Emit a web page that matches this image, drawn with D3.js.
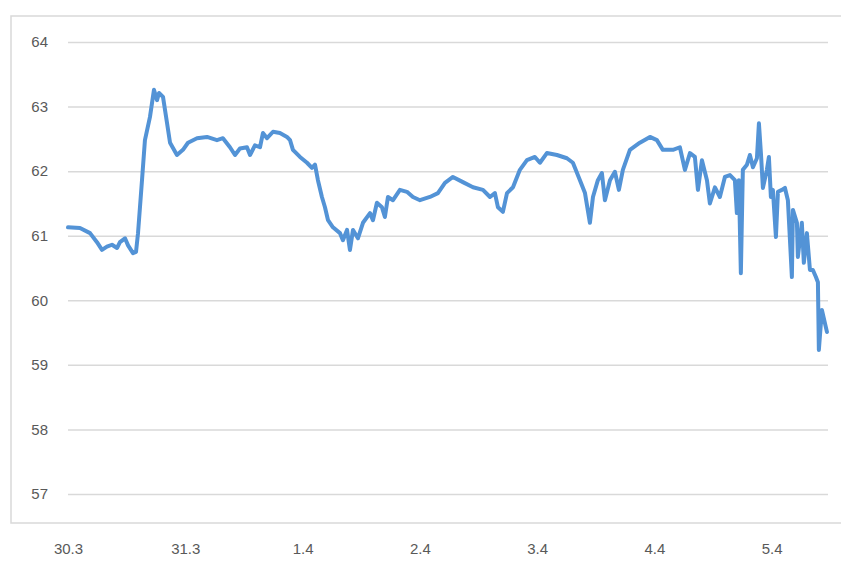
<!DOCTYPE html>
<html>
<head>
<meta charset="utf-8">
<script src="https://cdn.jsdelivr.net/npm/d3@7/dist/d3.min.js"></script>
<style>
  body { margin: 0; background: #fff; }
  svg { display: block; }
  .tick text { font-family: "Liberation Sans", "Noto Sans", sans-serif; fill: #595959; }
</style>
</head>
<body>
<div id="chart"></div>
<script>
// x 轴刻度标签（每天一个）
const dayLabels = ['30.3', '31.3', '1.4', '2.4', '3.4', '4.4', '5.4'];
const dayTicks = [0, 1, 2, 3, 4, 5, 6];
const yTicks = [57, 58, 59, 60, 61, 62, 63, 64];

// 时间（从 30.3 起的天数）
const days = [
  0, 0.102, 0.188, 0.247, 0.290, 0.332, 0.375, 0.418, 0.443, 0.486, 0.512, 0.554, 0.580,
  0.597, 0.631, 0.656, 0.699, 0.733, 0.759, 0.776, 0.810, 0.844, 0.870, 0.929, 0.980,
  1.023, 1.100, 1.185, 1.270, 1.321, 1.381, 1.424, 1.466, 1.526, 1.552, 1.594, 1.637,
  1.662, 1.697, 1.748, 1.807, 1.867, 1.893, 1.918, 1.978, 2.038, 2.080, 2.106, 2.131,
  2.165, 2.191, 2.217, 2.259, 2.319, 2.344, 2.379, 2.404, 2.430, 2.472, 2.515, 2.575,
  2.600, 2.634, 2.677, 2.702, 2.728, 2.771, 2.830, 2.890, 2.941, 3.001, 3.086, 3.154,
  3.214, 3.282, 3.367, 3.453, 3.538, 3.598, 3.640, 3.666, 3.708, 3.743, 3.794, 3.853,
  3.913, 3.981, 4.024, 4.083, 4.169, 4.254, 4.305, 4.365, 4.408, 4.450, 4.476, 4.518,
  4.552, 4.578, 4.621, 4.663, 4.697, 4.731, 4.791, 4.876, 4.962, 5.021, 5.072, 5.158,
  5.217, 5.260, 5.303, 5.345, 5.371, 5.405, 5.448, 5.473, 5.516, 5.558, 5.601, 5.644,
  5.686, 5.703, 5.720, 5.737, 5.754, 5.789, 5.814, 5.840, 5.874, 5.891, 5.908, 5.925,
  5.959, 5.976, 5.993, 6.010, 6.036, 6.053, 6.087, 6.113, 6.138, 6.172, 6.181, 6.215,
  6.223, 6.257, 6.274, 6.300, 6.326, 6.351, 6.377, 6.394, 6.402, 6.428, 6.471
];

// 对应的测量值
const values = [
  61.13, 61.12, 61.04, 60.90, 60.78, 60.83, 60.86, 60.81, 60.90, 60.96, 60.85, 60.73, 60.75,
  61.04, 61.86, 62.48, 62.84, 63.26, 63.10, 63.21, 63.15, 62.75, 62.44, 62.25, 62.33,
  62.44, 62.51, 62.53, 62.48, 62.51, 62.37, 62.25, 62.35, 62.37, 62.25, 62.40, 62.37,
  62.59, 62.51, 62.61, 62.59, 62.53, 62.48, 62.33, 62.22, 62.13, 62.05, 62.10, 61.86,
  61.60, 61.44, 61.24, 61.13, 61.04, 60.93, 61.09, 60.78, 61.09, 60.96, 61.20, 61.35,
  61.24, 61.51, 61.44, 61.29, 61.60, 61.55, 61.71, 61.68, 61.60, 61.55, 61.60, 61.66,
  61.82, 61.91, 61.83, 61.75, 61.71, 61.60, 61.66, 61.44, 61.37, 61.66, 61.75, 62.02,
  62.17, 62.22, 62.13, 62.28, 62.25, 62.20, 62.13, 61.86, 61.66, 61.20, 61.60, 61.86,
  61.97, 61.55, 61.86, 61.99, 61.71, 62.02, 62.33, 62.44, 62.53, 62.48, 62.33, 62.33,
  62.37, 62.02, 62.28, 62.22, 61.71, 62.17, 61.86, 61.50, 61.75, 61.60, 61.91, 61.94,
  61.86, 61.35, 61.86, 60.42, 62.02, 62.10, 62.25, 62.06, 62.20, 62.74, 62.28, 61.74,
  62.02, 62.22, 61.60, 61.71, 60.98, 61.68, 61.71, 61.74, 61.55, 60.36, 61.40, 61.20,
  60.67, 61.20, 60.58, 61.04, 60.47, 60.47, 60.36, 60.28, 59.23, 59.85, 59.51
];

document.addEventListener('DOMContentLoaded', () => {
  const series = days.map((d, i) => ({ day: d, value: values[i] }));
  drawLine(series);
});

function drawLine(data) {
  const W = 841, H = 561;

  const svg = d3.select('#chart')
    .append('svg')
    .attr('width', W)
    .attr('height', H);

  // 图表区外框（浅灰）
  svg.append('path')
    .attr('d', 'M841,16H11V523H841')
    .attr('fill', 'none')
    .attr('stroke', '#d9d9d9')
    .attr('stroke-width', 1.5);

  // 比例尺
  const x = d3.scaleLinear()
    .domain([0, 6.48])
    .range([68, 828]);

  const y = d3.scaleLinear()
    .domain([57, 64])
    .range([494, 42]);

  // 水平网格线 + y 轴标签
  const yAxis = svg.append('g')
    .attr('transform', 'translate(68,0)')
    .call(d3.axisLeft(y)
      .tickValues(yTicks)
      .tickFormat(d3.format('d'))
      .tickSize(-(828 - 68))
      .tickPadding(20));
  yAxis.select('.domain').remove();
  yAxis.selectAll('.tick line').attr('stroke', '#d9d9d9').attr('stroke-width', 1.5);
  yAxis.selectAll('.tick text').attr('font-size', 15);

  // x 轴标签（在外框下方）
  const xAxis = svg.append('g')
    .attr('transform', 'translate(0,540)')
    .call(d3.axisBottom(x).tickValues(dayTicks).tickSize(0).tickFormat((d, i) => dayLabels[i]));
  xAxis.select('.domain').remove();
  xAxis.selectAll('.tick text').attr('font-size', 15);

  // 折线
  const line = d3.line()
    .x(d => x(d.day))
    .y(d => y(d.value));

  svg.append('path')
    .datum(data)
    .attr('fill', 'none')
    .attr('stroke', '#5393d6')
    .attr('stroke-width', 4)
    .attr('stroke-linejoin', 'round')
    .attr('stroke-linecap', 'round')
    .attr('d', line);
}
</script>
</body>
</html>
